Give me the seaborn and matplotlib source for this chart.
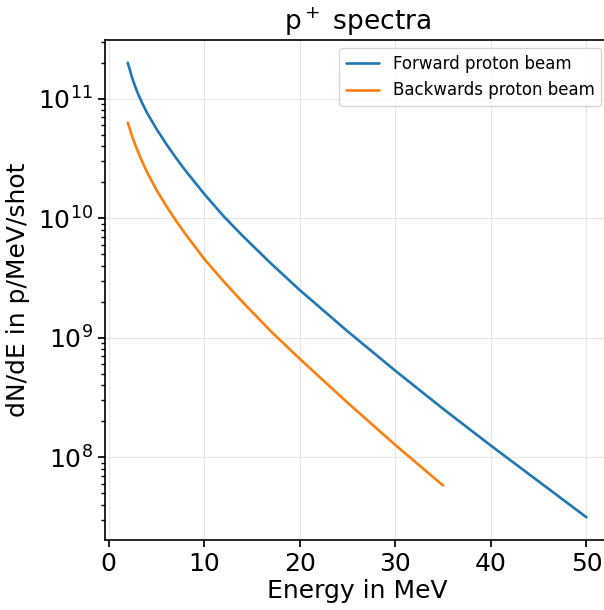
import matplotlib
matplotlib.use("Agg")
import matplotlib.pyplot as plt
import seaborn as sns
import pandas as pd

# Forward proton beam
energy_fwd = [2, 2.5, 3, 3.5, 4, 5, 6, 7, 8, 10, 12, 14, 17, 20, 25, 30, 35, 40, 45, 50]
dnde_fwd = [2.00e11, 1.46e11, 1.135e11, 9.23e10, 7.67e10, 5.60e10, 4.22e10, 3.24e10,
            2.53e10, 1.60e10, 1.047e10, 7.16e9, 4.18e9, 2.51e9, 1.135e9, 5.31e8,
            2.55e8, 1.256e8, 6.3e7, 3.16e7]

# Backwards proton beam
energy_bwd = [2, 2.5, 3, 3.5, 4, 5, 6, 7, 8, 10, 12, 14, 17, 20, 25, 30, 35]
dnde_bwd = [6.31e10, 4.74e10, 3.72e10, 2.99e10, 2.45e10, 1.73e10, 1.28e10, 9.66e9,
            7.45e9, 4.57e9, 2.99e9, 2.0e9, 1.13e9, 6.68e8, 2.87e8, 1.27e8, 5.82e7]

labels = ["Forward proton beam", "Backwards proton beam"]

df = pd.concat([
    pd.DataFrame({"E": energy_fwd, "dNdE": dnde_fwd, "beam": labels[0]}),
    pd.DataFrame({"E": energy_bwd, "dNdE": dnde_bwd, "beam": labels[1]}),
])

sns.set_theme(style="ticks")
plt.rcParams["font.family"] = ["DejaVu Sans"]
for k in ["text.color", "axes.labelcolor", "xtick.color", "ytick.color"]:
    plt.rcParams[k] = "black"

fig = plt.figure(figsize=(6.04, 6.10), dpi=100)
ax = fig.add_axes([104.8 / 604, 70 / 610, 504.6 / 604, 500 / 610])

sns.lineplot(data=df, x="E", y="dNdE", hue="beam", hue_order=labels,
             palette=["#1f77b4", "#ff7f0e"], linewidth=1.9, ax=ax)

ax.set_yscale("log")
ax.grid(True, color="#e6e6e6", linewidth=0.8)
ax.set_axisbelow(True)
for s in ax.spines.values():
    s.set_color("black")
    s.set_linewidth(1.2)

ax.set_xticks([0, 10, 20, 30, 40, 50])
ax.tick_params(axis="both", which="major", labelsize=18, length=5, color="black")
ax.tick_params(axis="y", which="minor", length=3, color="black")

ax.set_xlabel("Energy in MeV", fontsize=18, labelpad=2)
ax.set_ylabel("dN/dE in p/MeV/shot", fontsize=18, labelpad=6)
ax.set_title("p$^+$ spectra", fontsize=19, pad=7)

leg = ax.legend(fontsize=12, loc="upper right", frameon=True)

fig.savefig("out.png", dpi=100)
